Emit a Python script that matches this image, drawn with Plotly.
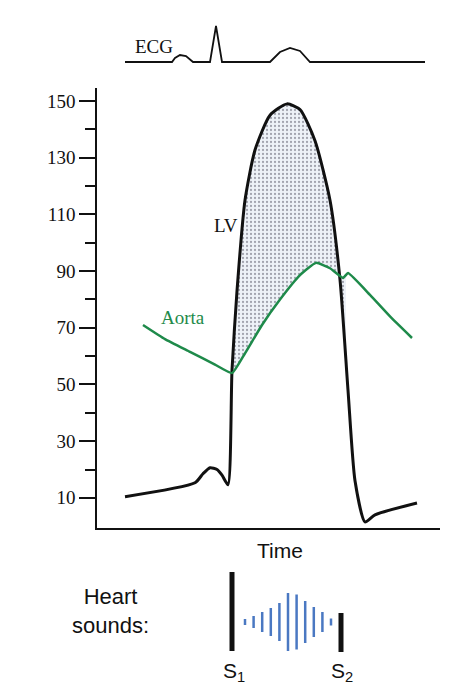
import plotly.graph_objects as go

# Main pressure curves (x = time in screen units, y = pressure mmHg)
lv_x = [125,195,203,210,217,222,228,232,237,245,255,270,287,300,315,330,340,348,355,365,375,417]
lv_y = [10.4,15.3,18.5,20.6,20,18,14.6,55,83,115,132.7,145,149,147,136,115,87,48,16,1.5,4,8.2]
ao_x = [143,165,190,215,232,245,262,280,300,316,330,343,348,370,390,412]
ao_y = [71,66,61.5,57,54,61,71,80,88.6,92.9,91,87.6,89.3,81.6,74,66.4]
# Shaded ejection region
fill_lv_x = [232,237,245,255,270,287,300,315,330,340,346]
fill_lv_y = [55,83,115,132.7,145,149,147,136,115,87,60]
fill_ao_x = [346,343,330,316,300,280,262,245,232]
fill_ao_y = [88.5,87.6,91,92.9,88.6,80,71,61,54]
# ECG trace (screen units)
ecg_x = [125,172,175,180,186,190,193,210,216,222,225,270,280,290,300,310,425]
ecg_y = [62,62,58,55,56,60,62,62,26,62,62,62,52,48,51,62,62]
# Heart sound murmur lines
mur_x = [245,253.6,262.2,270.8,279.4,288,296.6,305.2,313.8,322.4,331]
mur_h = [6,12,20,28,38,58,55,42,30,20,7]
tick_vals = [10,30,50,70,90,110,130,150]

W, H, OFF = 457, 689, 8

fig = go.Figure()
black = "#111"
green = "#1e8a4a"
fig.add_trace(go.Scatter(x=fill_lv_x+fill_ao_x, y=fill_lv_y+fill_ao_y, fill="toself",
    mode="none", fillcolor="rgba(0,0,0,0)",
    fillpattern=dict(shape=".", fgcolor="#556", size=4, solidity=0.25, bgcolor="#eef2f8")))
fig.add_trace(go.Scatter(x=lv_x, y=lv_y, mode="lines", line=dict(color=black, width=3, shape="spline", smoothing=0.6)))
fig.add_trace(go.Scatter(x=ao_x, y=ao_y, mode="lines", line=dict(color=green, width=2.5, shape="spline", smoothing=0.4)))
fig.add_trace(go.Scatter(x=ecg_x, y=ecg_y, yaxis="y2", mode="lines", line=dict(color=black, width=1.8)))
for x, h in zip(mur_x, mur_h):
    fig.add_trace(go.Scatter(x=[x, x], y=[622-h/2, 622+h/2], yaxis="y2", mode="lines",
                             line=dict(color="#4a78c2", width=2.5)))
fig.add_trace(go.Scatter(x=[232,232], y=[572,651], yaxis="y2", mode="lines", line=dict(color=black, width=5)))
fig.add_trace(go.Scatter(x=[341,341], y=[613,652], yaxis="y2", mode="lines", line=dict(color=black, width=5)))

serif = "Liberation Serif"
ann = [
    dict(x=226, y=106, text="LV", font=dict(family=serif, size=19, color=black)),
    dict(x=183, y=73.5, text="Aorta", font=dict(family=serif, size=19, color=green)),
    dict(x=154, y=46, yref="y2", text="ECG", font=dict(family=serif, size=19, color=black)),
    dict(x=280, y=550, yref="y2", text="Time", font=dict(family="Liberation Sans", size=21, color=black)),
    dict(x=110, y=611, yref="y2", text="Heart<br>sounds:", font=dict(family="Liberation Sans", size=22, color=black)),
    dict(x=234, y=672, yref="y2", text="S<sub>1</sub>", font=dict(family="Liberation Sans", size=21, color=black)),
    dict(x=342, y=672, yref="y2", text="S<sub>2</sub>", font=dict(family="Liberation Sans", size=21, color=black)),
]
for a in ann:
    a.setdefault("xref", "x"); a.setdefault("yref", "y"); a["showarrow"] = False
fig.update_layout(annotations=ann)

fig.update_layout(
    width=W, height=H, margin=dict(l=0, r=0, t=0, b=0),
    paper_bgcolor="white", plot_bgcolor="rgba(0,0,0,0)", showlegend=False,
    xaxis=dict(range=[97, 440], domain=[(97-OFF)/W, (440-OFF)/W], showline=True, linecolor=black,
               linewidth=1.5, showticklabels=False, ticks="", showgrid=False, zeroline=False,
               anchor="y"),
    yaxis=dict(range=[-0.5, 154.6], domain=[(H-(527.6-OFF))/H, (H-(88-OFF))/H],
               tickvals=tick_vals, ticks="outside", ticklen=16, tickwidth=1.5, tickcolor=black,
               showline=True, linecolor=black, linewidth=1.5, showgrid=False, zeroline=False,
               tickfont=dict(family=serif, size=19, color=black),
               minor=dict(tickvals=[20,40,60,80,100,120,140], ticks="outside", ticklen=10,
                          tickwidth=1.5, tickcolor=black)),
    yaxis2=dict(range=[697, OFF], domain=[0, 1], visible=False, anchor="x"),
)
fig.write_html("out.html")
